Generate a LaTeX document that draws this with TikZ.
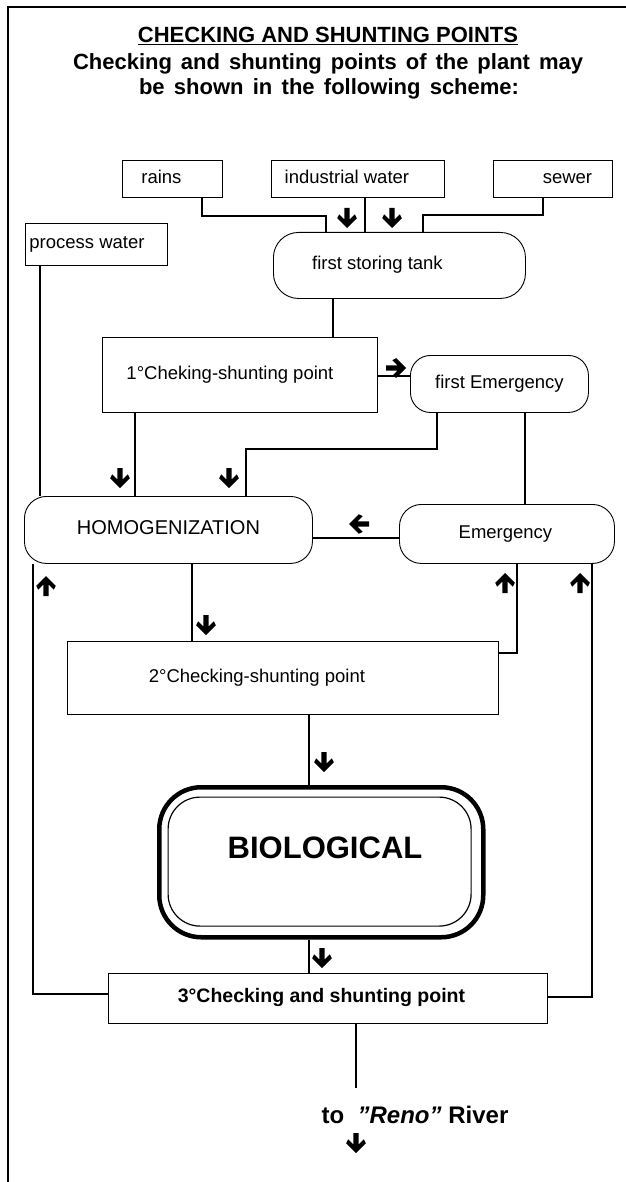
\documentclass[tikz,border=0pt]{standalone}
\usepackage{fontspec}
\setmainfont{Liberation Sans}
\usetikzlibrary{arrows.meta}
\begin{document}
\begin{tikzpicture}[x=1pt,y=-1pt,
  box/.style={draw, line width=0.9pt, inner sep=0pt, anchor=north west,
              text height=13pt, text depth=4pt,
              font=\fontsize{18.5}{22}\selectfont},
  conn/.style={line width=1.5pt},
  titlefont/.style={font=\bfseries\fontsize{22}{26}\selectfont, anchor=base},
  boldarrow/.pic={\fill (-2.6,0) -- (2.6,0) -- (2.6,11.5) -- (7.8,6.3) -- (9.8,10.2)
                   -- (0,20) -- (-9.8,10.2) -- (-7.8,6.3) -- (-2.6,11.5) -- cycle;}
]
\useasboundingbox (0,0) rectangle (625,1182);
% frame
\draw[line width=1.2pt] (8,1190) -- (8,7) -- (640,7);

% title
\node[titlefont] (t1) at (328,43) {\underline{CHECKING AND SHUNTING POINTS}};
\node[titlefont] (t2) at (328,70) {\makebox[510pt][s]{Checking and shunting points of the plant may}};
\node[titlefont] (t3) at (329,95) {\makebox[380pt][s]{be shown in the following scheme:}};

% boxes
\node[box, minimum width=100pt, minimum height=37pt] (rains) at (122,160) {rains\hspace*{22pt}};
\node[box, minimum width=173pt, minimum height=37pt] (ind) at (271,160) {industrial water\hspace*{22pt}};
\node[box, minimum width=119pt, minimum height=37pt] (sewer) at (493,160) {\hspace*{29pt}sewer};
\node[box, minimum width=142pt, minimum height=42pt] (proc) at (25,223) {process water\hspace*{19pt}};
\node[box, rounded corners=25pt, minimum width=252pt, minimum height=66pt] (tank) at (273,232) {first storing tank\hspace*{44pt}};
\node[box, minimum width=275pt, minimum height=75pt] (cp1) at (102,337) {1°Cheking-shunting point\hspace*{20pt}};
\node[box, rounded corners=20pt, minimum width=178pt, minimum height=57pt] (fe) at (410,355) {first Emergency};
\node[box, rounded corners=22pt, minimum width=288pt, minimum height=67pt, font=\fontsize{20}{24}\selectfont] (homog) at (24,496) {HOMOGENIZATION};
\node[box, rounded corners=22pt, minimum width=215pt, minimum height=59pt] (emerg) at (399,504) {Emergency\hspace*{3pt}};
\node[box, minimum width=431pt, minimum height=73pt] (cp2) at (67,641) {2°Checking-shunting point\hspace*{52pt}};
\node[box, line width=4.5pt, rounded corners=42pt, minimum width=324pt, minimum height=150pt] (bio) at (157,785) {};
\node[box, line width=1.2pt, rounded corners=32pt, minimum width=303pt, minimum height=129pt] (bioin) at (167.5,796.5) {};
\node[font=\bfseries\fontsize{31}{35}\selectfont] (biotext) at (325,848) {BIOLOGICAL};
\node[box, minimum width=439pt, minimum height=50pt, font=\bfseries\fontsize{19.5}{23}\selectfont] (cp3) at (108,973) {3°Checking and shunting point\hspace*{13pt}};
\node[font=\bfseries\fontsize{24}{28}\selectfont, anchor=base] (river) at (415,1123) {to\ \ \textit{"Reno"} River};

% connectors
\draw[conn] (rains.south -| 202,0) |- (326,216) -- (tank.north -| 326,0);
\draw[conn] (ind.south -| 365,0) -- (tank.north -| 365,0);
\draw[conn] (sewer.south -| 543,0) |- (423,215) -- (tank.north -| 423,0);
\draw[conn] (proc.south -| 40,0) -- (homog.north -| 40,0);
\draw[conn] (tank.south -| 333,0) -- (cp1.north -| 333,0);
\draw[conn] (cp1.east |- 0,376) -- (fe.west |- 0,376);
\draw[conn] (cp1.south -| 135,0) -- (homog.north -| 135,0);
\draw[conn] (fe.south -| 437,0) |- (246,449) -- (homog.north -| 246,0);
\draw[conn] (fe.south -| 525,0) -- (emerg.north -| 525,0);
\draw[conn] (emerg.west |- 0,538) -- (homog.east |- 0,538);
\draw[conn] (homog.south -| 192,0) -- (cp2.north -| 192,0);
\draw[conn] (cp2.east |- 0,653) -| (emerg.south -| 517,0);
\draw[conn] (cp3.east |- 0,997) -| (emerg.south -| 592,0);
\draw[conn] (cp3.west |- 0,994) -| (homog.south -| 33,0);
\draw[conn] (cp2.south -| 309,0) -- (bio.north -| 309,0);
\draw[conn] (bio.south -| 309,0) -- (cp3.north -| 309,0);
\coordinate (riverend) at (356,1088);
\draw[conn] (cp3.south -| 356,0) -- (riverend);

% direction marks (down: rotate=0, right: 90, left: -90, up: 180)
\pic at (347,208) {boldarrow};
\pic at (392,208) {boldarrow};
\pic[rotate=90] at (386,368) {boldarrow};
\pic at (120,468) {boldarrow};
\pic at (229,468) {boldarrow};
\pic[rotate=-90] at (369,524) {boldarrow};
\pic[rotate=180] at (46,596) {boldarrow};
\pic[rotate=180] at (505,593) {boldarrow};
\pic[rotate=180] at (580,593) {boldarrow};
\pic at (206,615) {boldarrow};
\pic at (324,752) {boldarrow};
\pic at (322,948) {boldarrow};
\pic at (356,1133) {boldarrow};
\end{tikzpicture}
\end{document}
